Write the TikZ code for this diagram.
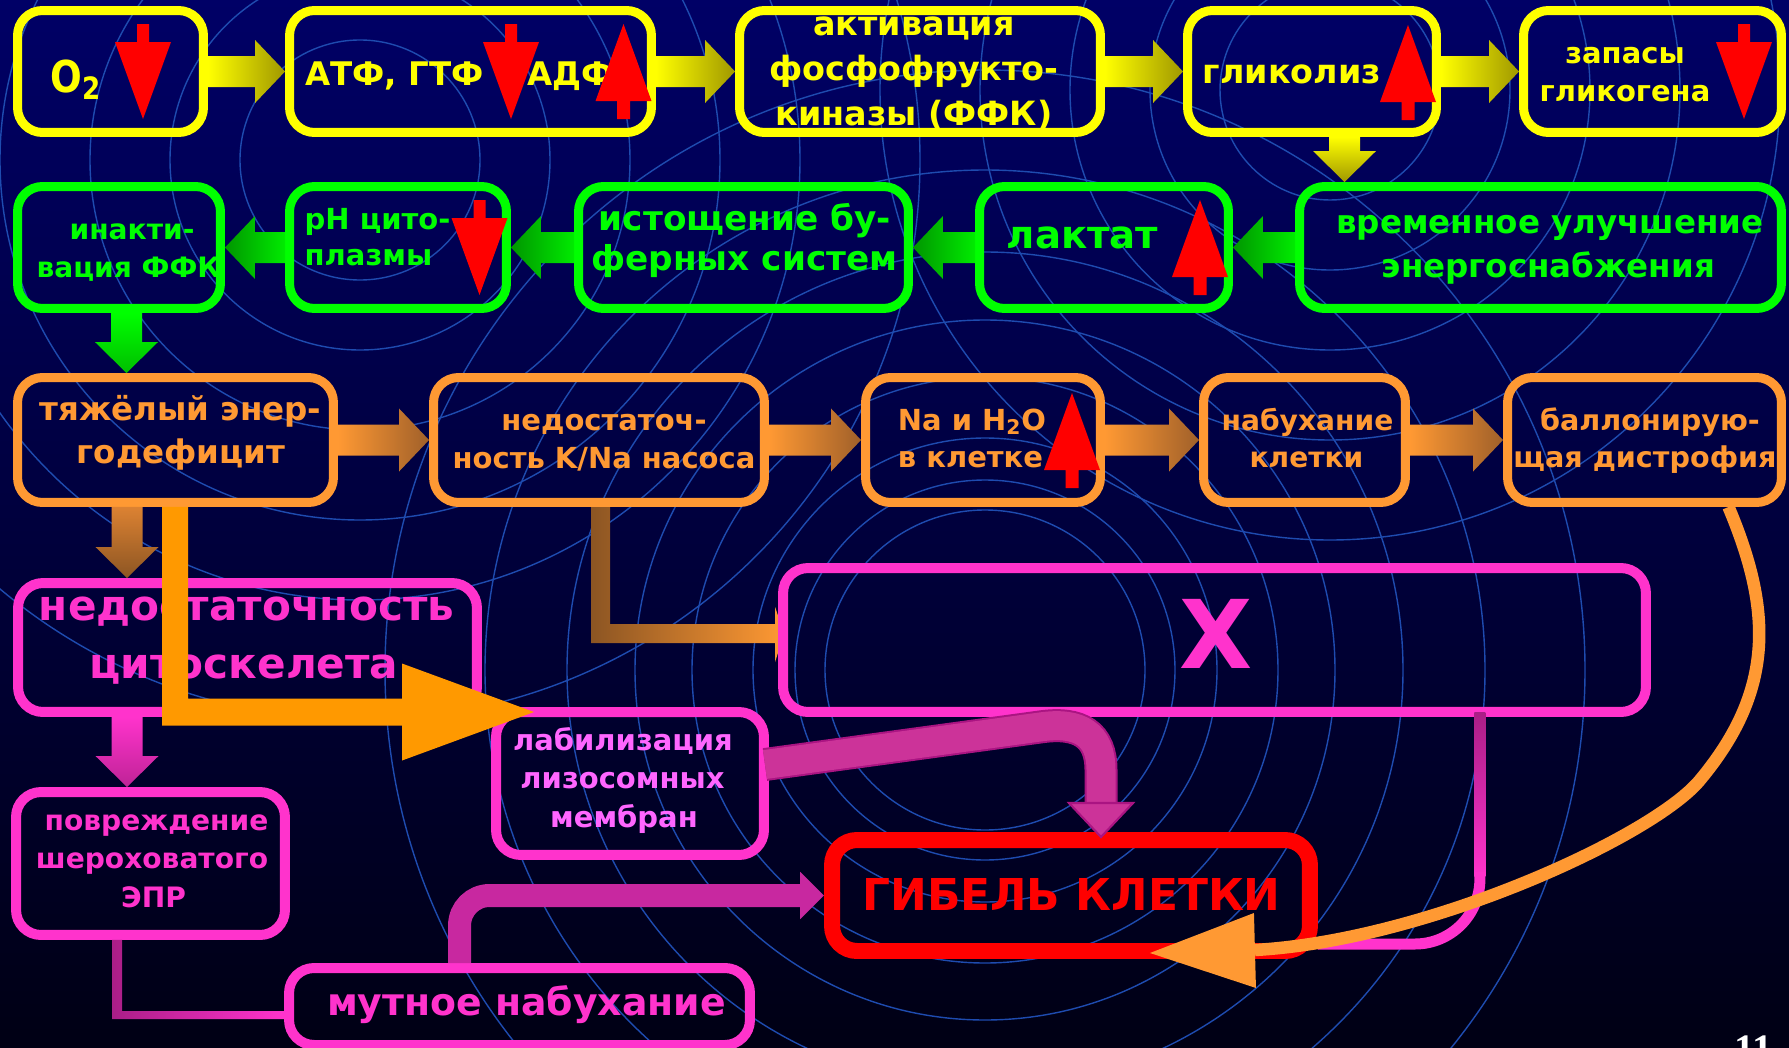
\documentclass[tikz,border=0pt]{standalone}
\usepackage{fontspec}
\setmainfont{DejaVu Sans}
\newfontfamily\numfont{Liberation Serif}
\usepackage{graphicx}
\usetikzlibrary{calc,arrows.meta}
\pgfdeclarelayer{bg}
\pgfsetlayers{bg,main}
\definecolor{cyel}{RGB}{255,255,0}
\definecolor{colive}{RGB}{160,152,0}
\definecolor{cgrn}{RGB}{0,255,0}
\definecolor{cgrnb}{RGB}{0,235,0}
\definecolor{cdgrn}{RGB}{0,150,0}
\definecolor{cgrnd}{RGB}{0,190,0}
\definecolor{cora}{RGB}{255,153,51}
\definecolor{cbrown}{RGB}{160,96,42}
\definecolor{cbrown2}{RGB}{140,85,35}
\definecolor{corb}{RGB}{220,130,50}
\definecolor{cmag}{RGB}{255,51,204}
\definecolor{cdmag}{RGB}{170,30,135}
\definecolor{cdmag2}{RGB}{190,35,150}
\definecolor{cpink}{RGB}{255,102,255}
\definecolor{cred}{RGB}{255,0,0}
\definecolor{cband}{RGB}{204,51,153}
\definecolor{cband2}{RGB}{200,40,160}
\definecolor{cbandd}{RGB}{170,20,130}
\definecolor{cbig}{RGB}{255,153,0}
\definecolor{bgtop}{RGB}{0,0,102}
\definecolor{bgbot}{RGB}{0,0,20}
\definecolor{ccirc}{RGB}{30,75,175}
\newcommand\fs[1]{\fontsize{#1}{#1}\selectfont\bfseries}
% block arrows: start anchor, tip anchor, colour 1, colour 2
\newcommand\ArrR[4]{\shade[left color=#3,right color=#4] ($(#1)+(0,-15.5)$) -- ($(#2)+(-30,-15.5)$) -- ($(#2)+(-30,-31.5)$) -- (#2) -- ($(#2)+(-30,31.5)$) -- ($(#2)+(-30,15.5)$) -- ($(#1)+(0,15.5)$) -- cycle;}
\newcommand\ArrL[4]{\shade[left color=#3,right color=#4] ($(#1)+(0,-15.5)$) -- ($(#2)+(30,-15.5)$) -- ($(#2)+(30,-31.5)$) -- (#2) -- ($(#2)+(30,31.5)$) -- ($(#2)+(30,15.5)$) -- ($(#1)+(0,15.5)$) -- cycle;}
\newcommand\ArrD[4]{\shade[top color=#3,bottom color=#4] ($(#1)+(-15.5,0)$) -- ($(#2)+(-15.5,-31)$) -- ($(#2)+(-31.5,-31)$) -- (#2) -- ($(#2)+(31.5,-31)$) -- ($(#2)+(15.5,-31)$) -- ($(#1)+(15.5,0)$) -- cycle;}
\begin{document}
\begin{tikzpicture}[x=0.02cm,y=-0.02cm,
 box/.style={line width=0.18cm,rounded corners=0.5cm,inner sep=0pt},
 mbox/.style={draw=cmag,line width=0.2cm,rounded corners=0.5cm,inner sep=0pt},
 txt/.style={anchor=base,inner sep=0pt,outer sep=0pt},
 rdown/.pic={\fill[cred] (-6,0) -- (-6,18) -- (-28,18) -- (0,95) -- (28,18) -- (6,18) -- (6,0) -- cycle;},
 rup/.pic={\fill[cred] (0,0) -- (28,77) -- (6.5,77) -- (6.5,95) -- (-6.5,95) -- (-6.5,77) -- (-28,77) -- cycle;}]
\useasboundingbox (0,0) rectangle (1789,1048);
% ---------- boxes ----------
\node[box,draw=cyel,minimum width=3.72cm,minimum height=2.44cm] (o2) at (110.5,71.5) {};
\node[box,draw=cyel,minimum width=7.24cm,minimum height=2.44cm] (atf) at (470.5,71.5) {};
\node[box,draw=cyel,minimum width=7.22cm,minimum height=2.44cm] (ffk) at (920,71.5) {};
\node[box,draw=cyel,minimum width=4.98cm,minimum height=2.44cm] (gly) at (1312,71.5) {};
\node[box,draw=cyel,minimum width=5.16cm,minimum height=2.44cm] (zap) at (1652.5,71.5) {};
\node[box,draw=cgrn,minimum width=4.06cm,minimum height=2.44cm] (inak) at (119,247.5) {};
\node[box,draw=cgrn,minimum width=4.34cm,minimum height=2.44cm] (ph) at (398,247.5) {};
\node[box,draw=cgrn,minimum width=6.60cm,minimum height=2.44cm] (buf) at (743.5,247.5) {};
\node[box,draw=cgrn,minimum width=4.98cm,minimum height=2.44cm] (lak) at (1104,247.5) {};
\node[box,draw=cgrn,minimum width=9.64cm,minimum height=2.44cm] (vrem) at (1540.5,247.5) {};
\node[box,draw=cora,minimum width=6.32cm,minimum height=2.50cm] (tyazh) at (175.5,440) {};
\node[box,draw=cora,minimum width=6.62cm,minimum height=2.50cm] (nasos) at (599,440) {};
\node[box,draw=cora,minimum width=4.70cm,minimum height=2.50cm] (na) at (983,440) {};
\node[box,draw=cora,minimum width=4.04cm,minimum height=2.50cm] (nab) at (1304.5,440) {};
\node[box,draw=cora,minimum width=5.48cm,minimum height=2.50cm] (ball) at (1644.5,440) {};
\node[mbox,minimum width=9.18cm,minimum height=2.58cm] (cyto) at (247.5,647.5) {};
\node[mbox,minimum width=17.26cm,minimum height=2.88cm] (X) at (1214.5,640) {};
\node[mbox,minimum width=5.36cm,minimum height=2.86cm] (lab) at (630,783.5) {};
\node[mbox,minimum width=5.38cm,minimum height=2.86cm] (povr) at (150.5,863.5) {};
\node[mbox,minimum width=9.22cm,minimum height=1.54cm] (mut) at (519.5,1006.5) {};
\node[draw=cred,line width=0.32cm,rounded corners=0.5cm,inner sep=0pt,minimum width=9.56cm,minimum height=2.22cm] (gib) at (1071,895.5) {};
% ---------- background layer ----------
\begin{pgfonlayer}{bg}
\shade[top color=bgtop,bottom color=bgbot] (0,0) rectangle (1789,1048);
\begin{scope}
\clip (0,0) rectangle (1789,1048);
\foreach \r in {120,190,270,360,440,560} \draw[ccirc,line width=0.8pt] (360,160) circle[radius=\r];
\foreach \r in {110,180,260,350,450} \draw[ccirc,line width=0.8pt] (1330,90) circle[radius=\r];
\foreach \r in {160,190,232,293,350,418,500,600} \draw[ccirc,line width=0.8pt] (985,670) circle[radius=\r];
\end{scope}
\coordinate (nx) at ($(nasos.south)+(1.5,-3)$);
\coordinate (xe) at ($(X.west)+(6,-6.5)$);
\shade[left color=cbrown2,right color=cora] ($(nx)+(-9.5,0)$) -- ($(nx |- xe)+(-9.5,9.5)$) -- ($(xe)+(-9,9.5)$) -- ($(xe)+(-9,28.5)$) -- (xe) -- ($(xe)+(-9,-26.5)$) -- ($(xe)+(-9,-9.5)$) -- ($(nx |- xe)+(9.5,-9.5)$) -- ($(nx)+(9.5,0)$) -- cycle;
\end{pgfonlayer}
% ---------- texts ----------
\node[txt,text=cyel,font={\fs{25}}] (t1) at (76,92) {\scalebox{0.85}[1]{O\textsubscript{2}}};
\node[txt,text=cyel,font={\fs{18.5}}] (t2) at (394.5,85) {АТФ, ГТФ};
\node[txt,text=cyel,font={\fs{18.5}}] (t3) at (571,85) {АДФ};
\node[txt,text=cyel,font={\fs{19}}] (t4) at (914,35) {активация};
\node[txt,text=cyel,font={\fs{19}}] (t5) at (914,80) {фосфофрукто-};
\node[txt,text=cyel,font={\fs{19}}] (t6) at (914,125) {киназы (ФФК)};
\node[txt,text=cyel,font={\fs{19}}] (t7) at (1292,83) {гликолиз};
\node[txt,text=cyel,font={\fs{16.5}}] (t8) at (1625,63) {запасы};
\node[txt,text=cyel,font={\fs{16.5}}] (t9) at (1625,101) {гликогена};
\node[txt,text=cgrn,font={\fs{16}}] (t10) at (132,239) {инакти-};
\node[txt,text=cgrn,font={\fs{16}}] (t11) at (128.5,277) {вация ФФК};
\node[txt,text=cgrn,font={\fs{16.5}}] (t12) at (377.5,229) {pH цито-};
\node[txt,text=cgrn,font={\fs{16.5}}] (t13) at (368.5,265) {плазмы};
\node[txt,text=cgrn,font={\fs{19.5}}] (t14) at (745,230) {истощение бу-};
\node[txt,text=cgrn,font={\fs{19.5}}] (t15) at (744.5,270) {ферных систем};
\node[txt,text=cgrn,font={\fs{22}}] (t16) at (1082.5,248) {лактат};
\node[txt,text=cgrn,font={\fs{18.5}}] (t17) at (1550,233) {временное улучшение};
\node[txt,text=cgrn,font={\fs{18.5}}] (t18) at (1548.5,277) {энергоснабжения};
\node[txt,text=cora,font={\fs{18.5}}] (t19) at (180.5,420) {тяжёлый энер-};
\node[txt,text=cora,font={\fs{18.5}}] (t20) at (181,463) {годефицит};
\node[txt,text=cora,font={\fs{16.5}}] (t21) at (604,430) {недостаточ-};
\node[txt,text=cora,font={\fs{16.5}}] (t22) at (604,468) {ность K/Na насоса};
\node[txt,text=cora,font={\fs{16.5}}] (t23) at (972,430) {Na и H\textsubscript{2}O};
\node[txt,text=cora,font={\fs{16.5}}] (t24) at (970.5,467) {в клетке};
\node[txt,text=cora,font={\fs{16}}] (t25) at (1307.5,430) {набухание};
\node[txt,text=cora,font={\fs{16}}] (t26) at (1306.5,467) {клетки};
\node[txt,text=cora,font={\fs{16.3}}] (t27) at (1650,430) {баллонирую-};
\node[txt,text=cora,font={\fs{16.3}}] (t28) at (1645,467) {щая дистрофия};
\node[txt,text=cmag,font={\fs{24}}] (t29) at (246.5,620) {недостаточность};
\node[txt,text=cmag,font={\fs{24}}] (t30) at (244,678) {цитоскелета};
\node[txt,text=cmag,font={\fs{54}}] (t31) at (1216,668) {X};
\node[txt,text=cpink,font={\fs{16.5}}] (t32) at (623,750) {лабилизация};
\node[txt,text=cpink,font={\fs{16.5}}] (t33) at (622.5,788) {лизосомных};
\node[txt,text=cpink,font={\fs{16.5}}] (t34) at (624,827) {мембран};
\node[txt,text=cmag,font={\fs{16}}] (t35) at (156.5,830) {повреждение};
\node[txt,text=cmag,font={\fs{16}}] (t36) at (152,868) {шероховатого};
\node[txt,text=cmag,font={\fs{16}}] (t37) at (153.5,907) {ЭПР};
\node[txt,text=cred,font={\fs{25}}] (t38) at (1071.5,910) {ГИБЕЛЬ КЛЕТКИ};
\node[txt,text=cmag,font={\fs{21.5}}] (t39) at (526.5,1015) {мутное набухание};
\node[txt,text=white,font={\numfont\bfseries\fontsize{23}{23}\selectfont}] (t40) at (1754,1062) {11};
% ---------- block arrows ----------
\ArrR{o2.east}{atf.west}{cyel}{colive}
\ArrR{atf.east}{ffk.west}{cyel}{colive}
\ArrR{ffk.east}{gly.west}{cyel}{colive}
\ArrR{gly.east}{zap.west}{cyel}{colive}
\coordinate (g1) at ($(gly.south)+(32.5,0)$);
\ArrD{g1}{g1 |- vrem.north}{cyel}{colive}
\ArrL{ph.west}{inak.east}{cdgrn}{cgrnb}
\ArrL{buf.west}{ph.east}{cdgrn}{cgrnb}
\ArrL{lak.west}{buf.east}{cdgrn}{cgrnb}
\ArrL{vrem.west}{lak.east}{cdgrn}{cgrnb}
\coordinate (g2) at ($(inak.south)+(7.5,0)$);
\ArrD{g2}{g2 |- tyazh.north}{cgrn}{cgrnd}
\ArrR{tyazh.east}{nasos.west}{cora}{cbrown}
\ArrR{nasos.east}{na.west}{cora}{cbrown}
\ArrR{na.east}{nab.west}{cora}{cbrown}
\ArrR{nab.east}{ball.west}{cora}{cbrown}
\coordinate (g3) at ($(tyazh.south)+(-48.5,0)$);
\ArrD{g3}{g3 |- cyto.north}{corb}{cbrown2}
\coordinate (g4) at ($(cyto.south)+(-120.5,0)$);
\ArrD{g4}{g4 |- povr.north}{cmag}{cdmag2}
% big orange L arrow
\coordinate (ts) at (tyazh.south);
\coordinate (lt2) at ($(lab.north west)+(43,5)$);
\fill[cbig] ($(ts)+(-13.5,0)$) -- ($(ts |- lt2)+(-13.5,13.5)$) -- ($(lt2)+(-132,13.5)$) -- ($(lt2)+(-132,48.5)$) -- (lt2) -- ($(lt2)+(-132,-48.5)$) -- ($(lt2)+(-132,-13.5)$) -- ($(ts |- lt2)+(12.5,-13.5)$) -- ($(ts)+(12.5,0)$) -- cycle;
% povr -> mut
\coordinate (pm) at ($(povr.south)+(-33.5,0)$);
\coordinate (me) at ($(mut.west)+(0,8.5)$);
\shade[left color=cdmag,right color=cmag] ($(pm)+(-5,0)$) -- ($(pm |- me)+(-5,4)$) -- ($(me)+(0,4)$) -- ($(me)+(0,-4)$) -- ($(pm |- me)+(5,-4)$) -- ($(pm)+(5,0)$) -- cycle;
% ---------- red arrows ----------
\pic at (143,24) {rdown};
\pic at (511,24) {rdown};
\pic at (623.5,24) {rup};
\pic at (1408,25) {rup};
\pic at (1744,24) {rdown};
\pic at (479.5,200) {rdown};
\pic at (1200,200) {rup};
\pic at (1072,393) {rup};
% ---------- curved connectors ----------
\coordinate (ls) at ($(lab.east)+(-4,-19)$);
\coordinate (lt) at ($(gib.north)+(30,5)$);
\draw[line width=0.66cm,cbandd] (ls) -- (1040,727) .. controls (1080,721) and (1101,735) .. (1101,770) -- ($(lt)+(0,-34)$);
\draw[line width=0.58cm,cband] (ls) -- (1040,727) .. controls (1080,721) and (1101,735) .. (1101,770) -- ($(lt)+(0,-34)$);
\filldraw[fill=cband,draw=cbandd,line width=1.2pt] ($(lt)+(-32,-34)$) -- ($(lt)+(32,-34)$) -- (lt) -- cycle;
\coordinate (ms) at ($(mut.north west)+(175.5,0)$);
\draw[line width=0.46cm,cband2,rounded corners=0.6cm,-{Triangle[length=0.48cm,width=0.92cm]}] (ms) |- (gib.west);
\coordinate (xg) at ($(X.south east)+(-171,0)$);
\coordinate (ge) at ($(gib.east)+(0,48.5)$);
\shade[top color=cdmag,bottom color=cmag] ($(xg)+(-5.5,-4)$) rectangle ($(xg)+(5.5,160)$);
\draw[line width=0.22cm,cmag,rounded corners=1.3cm] ($(xg)+(0,155)$) -- (xg |- ge) -- (ge);
\coordinate (os) at ($(ball.south)+(84,0)$);
\coordinate (ot) at ($(gib.south east)+(-168,-6)$);
\draw[line width=0.25cm,cora] (os) .. controls (1772,610) and (1775,690) .. (1700,780) .. controls (1655,835) and (1430,940) .. ($(ot)+(105,-3)$);
\fill[cora] ($(ot)+(104,-40)$) -- (ot) -- ($(ot)+(106,35)$) -- cycle;
\end{tikzpicture}
\end{document}
